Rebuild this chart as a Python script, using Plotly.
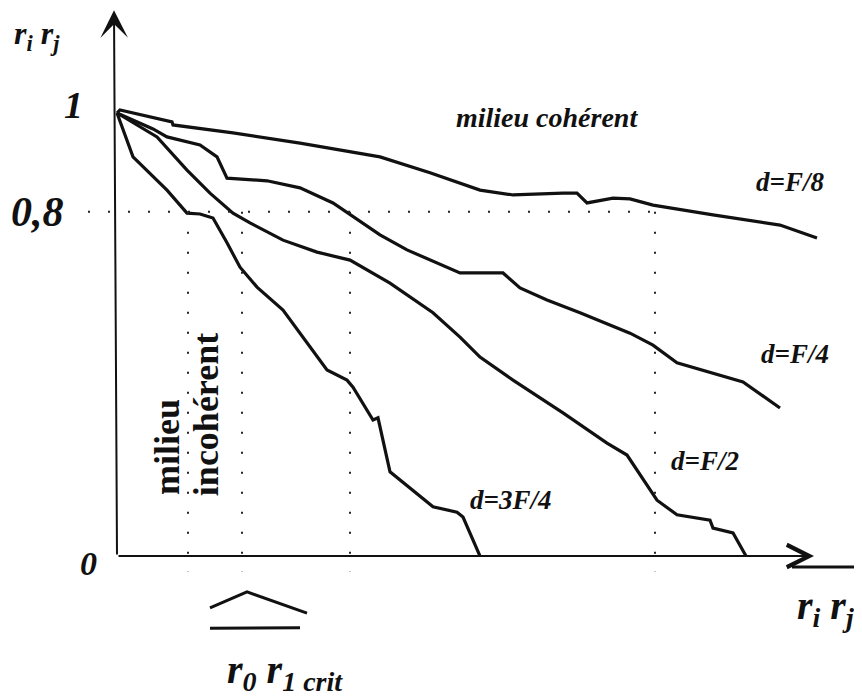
import plotly.graph_objects as go

# ---------------- data (schematic units: x = distance r_i r_j, y = correlation) -------------
curve_labels = ["d=F/8", "d=F/4", "d=F/2", "d=3F/4"]

x_f8 = [0.00, 0.03, 0.55, 0.56, 1.16, 1.83, 2.63, 3.13, 3.63, 3.96, 4.46, 4.60, 4.70, 4.96, 5.13, 5.36, 5.96, 6.63, 7.00]
y_f8 = [1.000, 1.007, 0.980, 0.973, 0.955, 0.932, 0.901, 0.865, 0.826, 0.815, 0.819, 0.819, 0.797, 0.808, 0.806, 0.792, 0.770, 0.747, 0.718]

x_f4 = [0.00, 0.36, 0.50, 0.83, 1.00, 1.10, 1.50, 1.83, 2.16, 2.63, 2.90, 3.43, 3.86, 4.03, 4.30, 4.63, 5.13, 5.36, 5.60, 5.96, 6.26, 6.63]
y_f4 = [1.000, 0.964, 0.946, 0.928, 0.901, 0.853, 0.847, 0.831, 0.797, 0.725, 0.691, 0.639, 0.639, 0.605, 0.578, 0.549, 0.503, 0.476, 0.436, 0.413, 0.393, 0.334]

x_f2 = [0.00, 0.40, 0.70, 0.93, 1.16, 1.33, 1.66, 2.00, 2.33, 2.73, 3.16, 3.43, 3.63, 3.96, 4.46, 4.90, 5.10, 5.40, 5.60, 5.93, 5.96, 6.16, 6.29]
y_f2 = [1.000, 0.946, 0.871, 0.819, 0.774, 0.752, 0.713, 0.686, 0.668, 0.616, 0.549, 0.494, 0.449, 0.397, 0.323, 0.255, 0.228, 0.126, 0.093, 0.081, 0.063, 0.052, 0.000]

x_3f4 = [0.00, 0.16, 0.50, 0.70, 0.83, 0.96, 1.10, 1.23, 1.40, 1.66, 2.10, 2.30, 2.36, 2.56, 2.61, 2.70, 2.73, 3.16, 3.40, 3.46, 3.63]
y_3f4 = [1.000, 0.901, 0.826, 0.774, 0.772, 0.763, 0.707, 0.652, 0.607, 0.555, 0.420, 0.397, 0.381, 0.307, 0.312, 0.217, 0.190, 0.111, 0.099, 0.088, 0.000]

# y tick labels (schematic axis) and reference guides
y_tick_vals = [0.0, 0.777, 1.0]
y_tick_text = ["0", "0,8", "1"]
guide_level = 0.777
guide_x = [0.71, 1.25, 2.33, 5.38]

FONT = "Liberation Serif, Times New Roman, serif"
INK = "#111111"

fig = go.Figure()

for xs, ys, name in zip([x_f8, x_f4, x_f2, x_3f4], [y_f8, y_f4, y_f2, y_3f4], curve_labels):
    fig.add_trace(go.Scatter(x=xs, y=ys, mode="lines", name=name, showlegend=False,
                             hoverinfo="skip", line=dict(color=INK, width=3.2)))

# dotted guide lines
dot = dict(color="#222222", width=2, dash="2px,18px")
fig.add_trace(go.Scatter(x=[-0.29, guide_x[-1]], y=[guide_level, guide_level], mode="lines",
                         line=dot, showlegend=False, hoverinfo="skip"))
for gx in guide_x:
    fig.add_trace(go.Scatter(x=[gx, gx], y=[guide_level, -0.036], mode="lines",
                             line=dot, showlegend=False, hoverinfo="skip"))

# hat and bar under r0 r1crit, overline of r_i r_j
fig.add_trace(go.Scatter(x=[0.93, 1.30, 1.90], y=[-0.117, -0.081, -0.129], mode="lines",
                         line=dict(color=INK, width=3), showlegend=False, hoverinfo="skip"))
fig.add_trace(go.Scatter(x=[0.93, 1.83], y=[-0.163, -0.162], mode="lines",
                         line=dict(color=INK, width=3), showlegend=False, hoverinfo="skip"))
fig.add_trace(go.Scatter(x=[6.75, 7.45], y=[-0.025, -0.025], mode="lines",
                         line=dict(color=INK, width=3), showlegend=False, hoverinfo="skip"))

# axes with arrows
fig.add_annotation(x=-0.03, y=1.232, ax=0, ay=0, xref="x", yref="y", axref="x", ayref="y",
                   text="", showarrow=True, arrowhead=3, arrowsize=2.3, arrowwidth=2,
                   arrowcolor=INK, standoff=0, startstandoff=0)
fig.add_annotation(x=6.97, y=0, ax=0, ay=0, xref="x", yref="y", axref="x", ayref="y",
                   text="", showarrow=True, arrowhead=5, arrowsize=2.2, arrowwidth=2,
                   arrowcolor=INK, standoff=0, startstandoff=0)


def label(text, x, y, size, angle=0, style="italic"):
    fig.add_annotation(x=x, y=y, xref="x", yref="y", text=text, showarrow=False,
                       textangle=angle, xanchor="center", yanchor="middle",
                       font=dict(family=FONT, size=size, color=INK, weight="bold", style=style))


# y tick labels
tick_label_x = [-0.29, -0.80, -0.44]
tick_label_dy = [-0.016, 0.0, 0.018]
tick_label_size = [34, 42, 38]
for tv, tt, tx, dy, ts in zip(y_tick_vals, y_tick_text, tick_label_x, tick_label_dy, tick_label_size):
    label(tt, tx, tv + dy, ts)

# curve labels
label("d=F/8", 6.73, 0.844, 27)
label("d=F/4", 6.78, 0.456, 27)
label("d=F/2", 5.88, 0.214, 27)
label("d=3F/4", 3.93, 0.126, 27)
label("milieu cohérent", 4.30, 0.989, 28)

# vertical region labels
label("milieu", 0.50, 0.246, 36, angle=-90, style="normal")
label("incohérent", 0.89, 0.318, 36, angle=-90, style="normal")

# axis titles
label("r<sub>i</sub> r<sub>j</sub>", -0.80, 1.175, 32)
label("r<sub>i</sub> r<sub>j</sub>", 7.08, -0.117, 40)
label("r<sub>0</sub> r<sub>1 crit</sub>", 1.68, -0.262, 40)

# the page adds an 8px body margin: the figure is sized and ranged to fill the rest
fig.update_layout(
    width=854, height=692,
    margin=dict(l=0, r=0, t=0, b=0),
    paper_bgcolor="white", plot_bgcolor="white",
    xaxis=dict(range=[-1.09, 7.45], visible=False, fixedrange=True),
    yaxis=dict(range=[-0.325, 1.237], visible=False, fixedrange=True),
    showlegend=False,
)

fig.write_html("out.html")
